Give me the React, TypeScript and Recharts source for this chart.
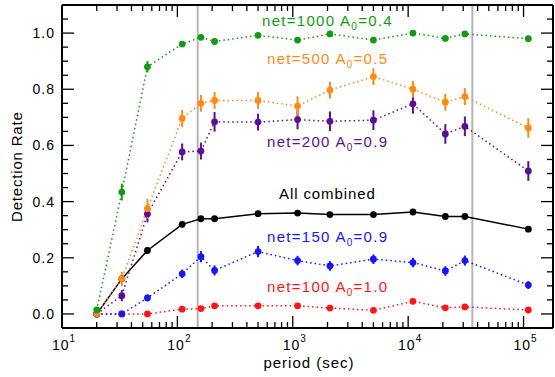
import { ComposedChart, Line, XAxis, YAxis, ErrorBar, ReferenceLine } from "recharts";

// period (sec) of every bin
const periods = [20, 33, 55, 110, 160, 210, 500, 1100, 2100, 5000, 11000, 21000, 31000, 110000];

// detection rates per simulation set, with 1-sigma errors
const net1000 = [0.014, 0.434, 0.88, 0.961, 0.985, 0.97, 0.992, 0.975, 0.997, 0.975, 1.0, 0.981, 0.997, 0.98];
const net1000Err = [0.01, 0.03, 0.02, 0.01, 0.008, 0.008, 0.008, 0.008, 0.008, 0.008, 0.008, 0.008, 0.008, 0.008];
const net500 = [0.0, 0.125, 0.375, 0.696, 0.75, 0.76, 0.76, 0.74, 0.797, 0.845, 0.8, 0.754, 0.774, 0.662];
const net500Err = [0.01, 0.025, 0.035, 0.03, 0.03, 0.03, 0.03, 0.035, 0.03, 0.03, 0.03, 0.03, 0.03, 0.035];
const net200 = [0.0, 0.065, 0.356, 0.577, 0.58, 0.684, 0.683, 0.692, 0.686, 0.69, 0.748, 0.641, 0.668, 0.509];
const net200Err = [0.005, 0.02, 0.03, 0.03, 0.03, 0.035, 0.03, 0.035, 0.035, 0.035, 0.035, 0.035, 0.035, 0.035];
const combined = [0.0, 0.125, 0.226, 0.319, 0.339, 0.339, 0.357, 0.359, 0.354, 0.354, 0.363, 0.347, 0.347, 0.302];
const net150 = [0.0, 0.0, 0.057, 0.143, 0.204, 0.155, 0.222, 0.19, 0.171, 0.195, 0.183, 0.153, 0.19, 0.103];
const net150Err = [0.005, 0.008, 0.012, 0.015, 0.02, 0.018, 0.02, 0.017, 0.017, 0.017, 0.017, 0.017, 0.018, 0.014];
const net100 = [0.0, 0.0, 0.0, 0.017, 0.019, 0.029, 0.029, 0.029, 0.021, 0.013, 0.045, 0.022, 0.025, 0.014];
const net100Err = [0.003, 0.003, 0.004, 0.005, 0.005, 0.006, 0.006, 0.006, 0.005, 0.005, 0.007, 0.005, 0.005, 0.005];

// vertical markers
const markers = [150, 36000];

const xTicks = [
  10, 20, 30, 40, 50, 60, 70, 80, 90,
  100, 200, 300, 400, 500, 600, 700, 800, 900,
  1000, 2000, 3000, 4000, 5000, 6000, 7000, 8000, 9000,
  10000, 20000, 30000, 40000, 50000, 60000, 70000, 80000, 90000,
  100000,
];
const xMajor = [10, 100, 1000, 10000, 100000];
const yTicks = [0, 0.05, 0.1, 0.15, 0.2, 0.25, 0.3, 0.35, 0.4, 0.45, 0.5, 0.55, 0.6, 0.65, 0.7, 0.75, 0.8, 0.85, 0.9, 0.95, 1.0, 1.05];
const yMajor = [0, 0.2, 0.4, 0.6, 0.8, 1.0];

const COLORS = {
  n1000: "#139a13",
  n500: "#ff8a14",
  n200: "#5c0f94",
  all: "#000000",
  n150: "#1515ff",
  n100: "#ff1515",
};

const data = periods.map((p, i) => ({
  period: p,
  n1000: net1000[i],
  e1000: net1000Err[i],
  n500: net500[i],
  e500: net500Err[i],
  n200: net200[i],
  e200: net200Err[i],
  all: combined[i],
  n150: net150[i],
  e150: net150Err[i],
  n100: net100[i],
  e100: net100Err[i],
}));

const FONT = "'Liberation Sans', Arial, sans-serif";

const isMajorX = (v: number) => xMajor.includes(v);
const isMajorY = (v: number) => yMajor.some((m) => Math.abs(m - v) < 1e-6);

const BottomTick = (props: any) => {
  const { x, y, payload } = props;
  const major = isMajorX(payload.value);
  const len = major ? 12 : 6;
  return (
    <g>
      <line x1={x} x2={x} y1={y} y2={y - len} stroke="#000" strokeWidth={1.3} />
      {major && (
        <text x={x + 2} y={y + 22} textAnchor="middle" fontFamily={FONT} fontSize={14} letterSpacing={1} fill="#000">
          10
          <tspan dy={-8} fontSize={10}>
            {Math.round(Math.log10(payload.value))}
          </tspan>
        </text>
      )}
    </g>
  );
};

const TopTick = (props: any) => {
  const { x, y, payload } = props;
  const len = isMajorX(payload.value) ? 12 : 6;
  return <line x1={x} x2={x} y1={y} y2={y + len} stroke="#000" strokeWidth={1.3} />;
};

const LeftTick = (props: any) => {
  const { x, y, payload } = props;
  const major = isMajorY(payload.value);
  const len = major ? 12 : 6;
  return (
    <g>
      <line x1={x} x2={x + len} y1={y} y2={y} stroke="#000" strokeWidth={1.3} />
      {major && (
        <text x={x - 7} y={y + 5} textAnchor="end" fontFamily={FONT} fontSize={14} letterSpacing={1} fill="#000">
          {payload.value.toFixed(1)}
        </text>
      )}
    </g>
  );
};

const RightTick = (props: any) => {
  const { x, y, payload } = props;
  const len = isMajorY(payload.value) ? 12 : 6;
  return <line x1={x} x2={x - len} y1={y} y2={y} stroke="#000" strokeWidth={1.3} />;
};

const dotted = "1.5 3";

const Label = ({ x, y, color, net, a0 }: { x: number; y: number; color: string; net: string; a0: string }) => (
  <text x={x} y={y} fill={color} fontFamily={FONT} fontSize={15} letterSpacing={1.3}>
    {`net=${net} A`}
    <tspan dy={4} fontSize={10}>0</tspan>
    <tspan dy={-4}>{`=${a0}`}</tspan>
  </text>
);

const axisLine = { stroke: "#000", strokeWidth: 2 };

export default function App() {
  return (
    <div style={{ position: "absolute", left: 0, top: 0, width: 555, height: 377, background: "#fff" }}>
      <ComposedChart width={555} height={377} data={data} margin={{ top: 4, right: 1, bottom: 48, left: 61 }}>
        <XAxis
          dataKey="period"
          type="number"
          scale="log"
          domain={[10, 180000]}
          allowDataOverflow
          ticks={xTicks}
          interval={0}
          height={1}
          tickSize={0}
          tickMargin={0}
          tickLine={false}
          tick={<BottomTick />}
          axisLine={axisLine}
        />
        <XAxis
          xAxisId="top"
          orientation="top"
          dataKey="period"
          type="number"
          scale="log"
          domain={[10, 180000]}
          allowDataOverflow
          ticks={xTicks}
          interval={0}
          height={1}
          tickSize={0}
          tickMargin={0}
          tickLine={false}
          tick={<TopTick />}
          axisLine={axisLine}
        />
        <YAxis
          type="number"
          domain={[-0.05, 1.1]}
          allowDataOverflow
          ticks={yTicks}
          interval={0}
          width={1}
          tickSize={0}
          tickMargin={0}
          tickLine={false}
          tick={<LeftTick />}
          axisLine={axisLine}
        />
        <YAxis
          yAxisId="right"
          orientation="right"
          type="number"
          domain={[-0.05, 1.1]}
          allowDataOverflow
          ticks={yTicks}
          interval={0}
          width={1}
          tickSize={0}
          tickMargin={0}
          tickLine={false}
          tick={<RightTick />}
          axisLine={axisLine}
        />
        {markers.map((m) => (
          <ReferenceLine key={m} x={m} stroke="#b4b4b4" strokeWidth={2} />
        ))}
        <Line dataKey="n100" stroke={COLORS.n100} strokeWidth={1.5} strokeDasharray={dotted} isAnimationActive={false}
          dot={{ r: 3.4, fill: COLORS.n100, stroke: "none", strokeDasharray: "" }} activeDot={false}>
          <ErrorBar dataKey="e100" width={0} stroke={COLORS.n100} strokeWidth={2} direction="y" />
        </Line>
        <Line dataKey="n150" stroke={COLORS.n150} strokeWidth={1.5} strokeDasharray={dotted} isAnimationActive={false}
          dot={{ r: 3.4, fill: COLORS.n150, stroke: "none", strokeDasharray: "" }} activeDot={false}>
          <ErrorBar dataKey="e150" width={0} stroke={COLORS.n150} strokeWidth={2} direction="y" />
        </Line>
        <Line dataKey="all" stroke={COLORS.all} strokeWidth={1.5} isAnimationActive={false}
          dot={{ r: 3.4, fill: COLORS.all, stroke: "none" }} activeDot={false} />
        <Line dataKey="n200" stroke={COLORS.n200} strokeWidth={1.5} strokeDasharray={dotted} isAnimationActive={false}
          dot={{ r: 3.4, fill: COLORS.n200, stroke: "none", strokeDasharray: "" }} activeDot={false}>
          <ErrorBar dataKey="e200" width={0} stroke={COLORS.n200} strokeWidth={2} direction="y" />
        </Line>
        <Line dataKey="n500" stroke={COLORS.n500} strokeWidth={1.5} strokeDasharray={dotted} isAnimationActive={false}
          dot={{ r: 3.4, fill: COLORS.n500, stroke: "none", strokeDasharray: "" }} activeDot={false}>
          <ErrorBar dataKey="e500" width={0} stroke={COLORS.n500} strokeWidth={2} direction="y" />
        </Line>
        <Line dataKey="n1000" stroke={COLORS.n1000} strokeWidth={1.5} strokeDasharray={dotted} isAnimationActive={false}
          dot={{ r: 3.4, fill: COLORS.n1000, stroke: "none", strokeDasharray: "" }} activeDot={false}>
          <ErrorBar dataKey="e1000" width={0} stroke={COLORS.n1000} strokeWidth={2} direction="y" />
        </Line>
      </ComposedChart>
      <svg width={555} height={377} style={{ position: "absolute", left: 0, top: 0, pointerEvents: "none" }}>
        <Label x={262} y={25.5} color={COLORS.n1000} net="1000" a0="0.4" />
        <Label x={267} y={63.5} color={COLORS.n500} net="500" a0="0.5" />
        <Label x={267} y={147} color={COLORS.n200} net="200" a0="0.9" />
        <text x={279} y={198.5} fill="#000" fontFamily={FONT} fontSize={15} letterSpacing={0.9}>
          All combined
        </text>
        <Label x={267} y={241.5} color={COLORS.n150} net="150" a0="0.9" />
        <Label x={267} y={291.5} color={COLORS.n100} net="100" a0="1.0" />
        <text x={309} y={368} textAnchor="middle" fontFamily={FONT} fontSize={15} letterSpacing={1} fill="#000">
          period (sec)
        </text>
        <text
          x={16.5}
          y={166.7}
          textAnchor="middle"
          dominantBaseline="central"
          transform="rotate(-90, 16.5, 166.7)"
          fontFamily={FONT}
          fontSize={15}
          letterSpacing={0.8}
          fill="#000"
        >
          Detection Rate
        </text>
      </svg>
    </div>
  );
}
